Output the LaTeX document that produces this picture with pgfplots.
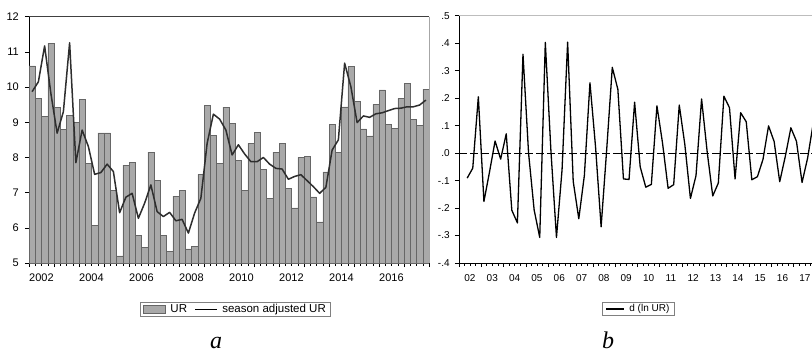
\documentclass[border=0pt]{standalone}
\usepackage{fontspec}
\setmainfont{Liberation Sans}
\newfontfamily\capfont{Liberation Serif}
\usepackage{pgfplots}
\usepackage{pgfplotstable}
\pgfplotsset{compat=1.18}

\definecolor{barfill}{HTML}{A9A9A9}
\definecolor{baredge}{HTML}{666666}
\definecolor{saline}{HTML}{2E2E2E}
\definecolor{lightframe}{HTML}{BDBDBD}

% Quarterly unemployment rate, 2002Q1--2017Q4 (x = quarter index centre)
\pgfplotstableread{
x     ur     sa
0.5   10.60  9.87
1.5   9.68   10.15
2.5   9.16   11.17
3.5   11.24  9.82
4.5   9.43   8.69
5.5   8.80   9.30
6.5   9.20   11.26
7.5   9.00   7.85
8.5   9.65   8.78
9.5   7.84   8.31
10.5  6.08   7.52
11.5  8.70   7.57
12.5  8.70   7.81
13.5  7.07   7.60
14.5  5.20   6.43
15.5  7.78   6.87
16.5  7.86   6.98
17.5  5.78   6.27
18.5  5.44   6.70
19.5  8.15   7.22
20.5  7.35   6.46
21.5  5.79   6.32
22.5  5.34   6.44
23.5  6.90   6.20
24.5  7.06   6.24
25.5  5.40   5.85
26.5  5.47   6.42
27.5  7.52   6.84
28.5  9.48   8.40
29.5  8.63   9.23
30.5  7.84   9.09
31.5  9.43   8.78
32.5  8.97   8.07
33.5  7.92   8.36
34.5  7.07   8.10
35.5  8.40   7.88
36.5  8.72   7.88
37.5  7.67   8.00
38.5  6.84   7.81
39.5  8.15   7.69
40.5  8.41   7.67
41.5  7.13   7.38
42.5  6.57   7.46
43.5  8.00   7.51
44.5  8.04   7.34
45.5  6.88   7.17
46.5  6.17   6.98
47.5  7.59   7.15
48.5  8.95   8.21
49.5  8.15   8.50
50.5  9.44   10.68
51.5  10.58  10.01
52.5  9.60   8.99
53.5  8.81   9.18
54.5  8.61   9.14
55.5  9.51   9.24
56.5  9.92   9.27
57.5  8.94   9.33
58.5  8.83   9.39
59.5  9.68   9.40
60.5  10.11  9.44
61.5  9.08   9.44
62.5  8.92   9.49
63.5  9.94   9.63
}\urtable

% First difference of ln UR, 2002Q2--2017Q4
\pgfplotstableread{
x     dl
1.5   -0.091
2.5   -0.055
3.5   0.205
4.5   -0.176
5.5   -0.069
6.5   0.044
7.5   -0.022
8.5   0.070
9.5   -0.208
10.5  -0.254
11.5  0.360
12.5  0.000
13.5  -0.207
14.5  -0.307
15.5  0.403
16.5  0.010
17.5  -0.307
18.5  -0.061
19.5  0.404
20.5  -0.103
21.5  -0.239
22.5  -0.081
23.5  0.256
24.5  0.023
25.5  -0.268
26.5  0.013
27.5  0.312
28.5  0.232
29.5  -0.094
30.5  -0.096
31.5  0.185
32.5  -0.050
33.5  -0.124
34.5  -0.114
35.5  0.172
36.5  0.037
37.5  -0.128
38.5  -0.115
39.5  0.175
40.5  0.031
41.5  -0.165
42.5  -0.082
43.5  0.197
44.5  0.005
45.5  -0.156
46.5  -0.109
47.5  0.207
48.5  0.165
49.5  -0.094
50.5  0.147
51.5  0.114
52.5  -0.097
53.5  -0.086
54.5  -0.023
55.5  0.099
56.5  0.042
57.5  -0.104
58.5  -0.012
59.5  0.092
60.5  0.043
61.5  -0.107
62.5  -0.018
63.5  0.108
}\dltable

\pgfplotsset{
  eviews/.style={
    scale only axis,
    xmin=0, xmax=64,
    axis x line*=bottom, axis y line*=left,
    axis line style={-, black, line width=0.6pt},
    tick align=outside,
    major tick length=4pt, minor tick length=2.5pt,
    tick style={black, line width=0.5pt},
    minor x tick num=3,
    /pgf/number format/assume math mode=true,
  },
  boxlegend/.style={
    draw=gray, line width=0.5pt,
    inner xsep=3pt, inner ysep=0.5pt,
    nodes={inner sep=1.5pt},
    /tikz/every odd column/.append style={column sep=3pt},
    /tikz/every even column/.append style={column sep=6pt},
  },
}

\begin{document}
\begin{tikzpicture}[x=1pt, y=1pt]

% ---- panel a: unemployment rate and seasonally adjusted series
\begin{axis}[eviews,
  name=left, at={(29pt,94pt)}, anchor=south west,
  width=400pt, height=246.3pt,
  ymin=5, ymax=12, ytick={5,6,...,12},
  xtick={0,4,...,64},
  xticklabels={2002,,2004,,2006,,2008,,2010,,2012,,2014,,2016,,},
  ticklabel style={font=\fontsize{11}{12}\selectfont},
  xticklabel style={anchor=north west, inner sep=0pt, yshift=-7pt},
  yticklabel style={anchor=east, inner sep=0pt, xshift=-6pt},
  legend columns=2,
  legend style={boxlegend, at={(rel axis cs:0.516,-0.1876)}, anchor=center,
    font=\fontsize{11.5}{12}\selectfont},
]
\addplot[ybar, bar width=6.25pt, fill=barfill, draw=baredge, line width=0.5pt,
  legend image code/.code={\draw[fill=barfill, draw=baredge, line width=0.5pt]
    (0pt,-4pt) rectangle (22pt,4pt);}]
  table[x=x, y=ur] {\urtable};
\addlegendentry{UR}
\addplot[saline, line width=1.5pt, line join=round, mark=none,
  legend image code/.code={\draw[black, line width=1.2pt] (0pt,0pt) -- (22pt,0pt);}]
  table[x=x, y=sa] {\urtable};
\addlegendentry{season adjusted UR}
\end{axis}
\draw[black!75, line width=0.6pt] (left.north west) -- (left.north east);
\draw[gray!70, line width=0.6pt] (left.north east) -- (left.south east);

% ---- panel b: d(ln UR)
\begin{axis}[eviews,
  name=right, at={(458.8pt,94pt)}, anchor=south west,
  width=357.2pt, height=247.3pt,
  ymin=-0.4, ymax=0.5, ytick={-0.4,-0.3,...,0.5},
  yticklabels={-.4,-.3,-.2,-.1,.0,.1,.2,.3,.4,.5},
  xtick={0,4,...,64}, xticklabels={},
  extra x ticks={2,6,...,62},
  extra x tick labels={02,03,04,05,06,07,08,09,10,11,12,13,14,15,16,17},
  extra x tick style={major tick length=0pt},
  ticklabel style={font=\fontsize{10}{11}\selectfont},
  xticklabel style={anchor=north, inner sep=0pt, yshift=-11pt},
  yticklabel style={anchor=east, inner sep=0pt, xshift=-5pt},
  legend style={boxlegend, at={(rel axis cs:0.5025,-0.186)}, anchor=center,
    font=\fontsize{10}{11}\selectfont},
]
\addplot[black, line width=0.5pt, dash pattern=on 8pt off 3pt, forget plot]
  coordinates {(0,0) (64,0)};
\addplot[black, line width=1.3pt, line join=round, mark=none,
  legend image code/.code={\draw[black, line width=1.2pt] (0pt,0pt) -- (18pt,0pt);}]
  table[x=x, y=dl] {\dltable};
\addlegendentry{d (ln UR)}
\end{axis}
\draw[lightframe, line width=0.7pt] (right.north west) -- (right.north east);

% panel captions
\node[font=\capfont\itshape\fontsize{24}{24}\selectfont, anchor=base] at (216pt,9pt) {a};
\node[font=\capfont\itshape\fontsize{24}{24}\selectfont, anchor=base] at (608pt,9pt) {b};

\pgfresetboundingbox
\path[use as bounding box] (0pt,0pt) rectangle (812pt,357pt);
\end{tikzpicture}
\end{document}
